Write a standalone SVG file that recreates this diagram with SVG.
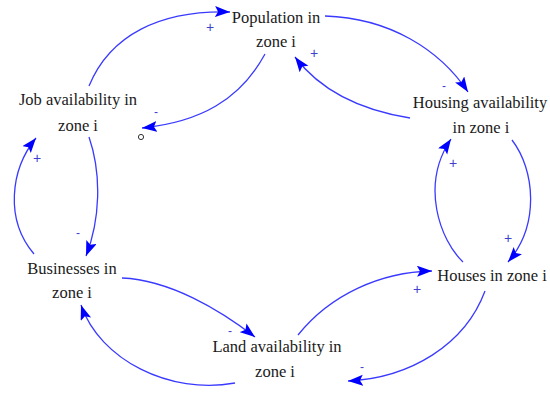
<svg xmlns="http://www.w3.org/2000/svg" width="550" height="393" viewBox="0 0 550 393">
<defs>
<marker id="ah" markerUnits="userSpaceOnUse" markerWidth="16" markerHeight="12" refX="15" refY="5.5" orient="auto">
<path d="M0,0 L15,5.5 L0,11 L3,5.5 z" fill="#0000ff"/>
</marker>
</defs>
<style>
.n text{font-family:"Liberation Serif","Times New Roman",serif;font-size:16.5px;fill:#1a1a1a;text-anchor:middle}
.c path{fill:none;stroke:#3a3aff;stroke-width:1.3;marker-end:url(#ah)}
.l text{font-family:"Liberation Sans",Arial,sans-serif;font-size:14px;fill:#4040d0;text-anchor:middle;dominant-baseline:central}
.l text.m{font-size:12px}
</style>
<rect width="550" height="393" fill="#ffffff"/>
<g id="connectors" class="c">
<path d="M89,86 C110,35 160,10 230,12"/>
<path d="M265,54 C240,100 200,122 142,128"/>
<path d="M325,16 C390,18 440,50 468,92"/>
<path d="M410,118 C360,110 320,90 295,57"/>
<path d="M463,262 C440,240 420,185 451,139"/>
<path d="M512,140 C535,170 540,225 508,262"/>
<path d="M298,335 C330,295 380,272 432,271"/>
<path d="M485,291 C465,345 410,378 348,381"/>
<path d="M235,383 C170,395 100,360 81,305"/>
<path d="M122,278 C170,280 220,310 255,337"/>
<path d="M34,254 C5,220 10,170 36,138"/>
<path d="M89,137 C102,175 100,220 86,256"/>
</g>
<circle cx="141" cy="137" r="2.6" fill="#ffffff" stroke="#333333" stroke-width="1"/>
<g id="labels" class="l">
<text x="210" y="27">+</text>
<text class="m" x="156" y="112">-</text>
<text class="m" x="444" y="86">-</text>
<text x="314" y="53">+</text>
<text x="453" y="163">+</text>
<text x="508" y="238">+</text>
<text x="417" y="289">+</text>
<text class="m" x="362" y="367">-</text>
<text class="m" x="230" y="331">-</text>
<text x="37" y="158">+</text>
<text class="m" x="78" y="233">-</text>
</g>
<g id="population" class="n"><text x="276" y="23">Population in</text><text x="276" y="47">zone i</text></g>
<g id="job" class="n"><text x="78" y="105">Job availability in</text><text x="78" y="131">zone i</text></g>
<g id="housing" class="n"><text x="480" y="108">Housing availability</text><text x="481" y="133">in zone i</text></g>
<g id="businesses" class="n"><text x="72" y="274">Businesses in</text><text x="72" y="298">zone i</text></g>
<g id="land" class="n"><text x="277" y="352">Land availability in</text><text x="275" y="377">zone i</text></g>
<g id="houses" class="n"><text x="492" y="281">Houses in zone i</text></g>
</svg>
